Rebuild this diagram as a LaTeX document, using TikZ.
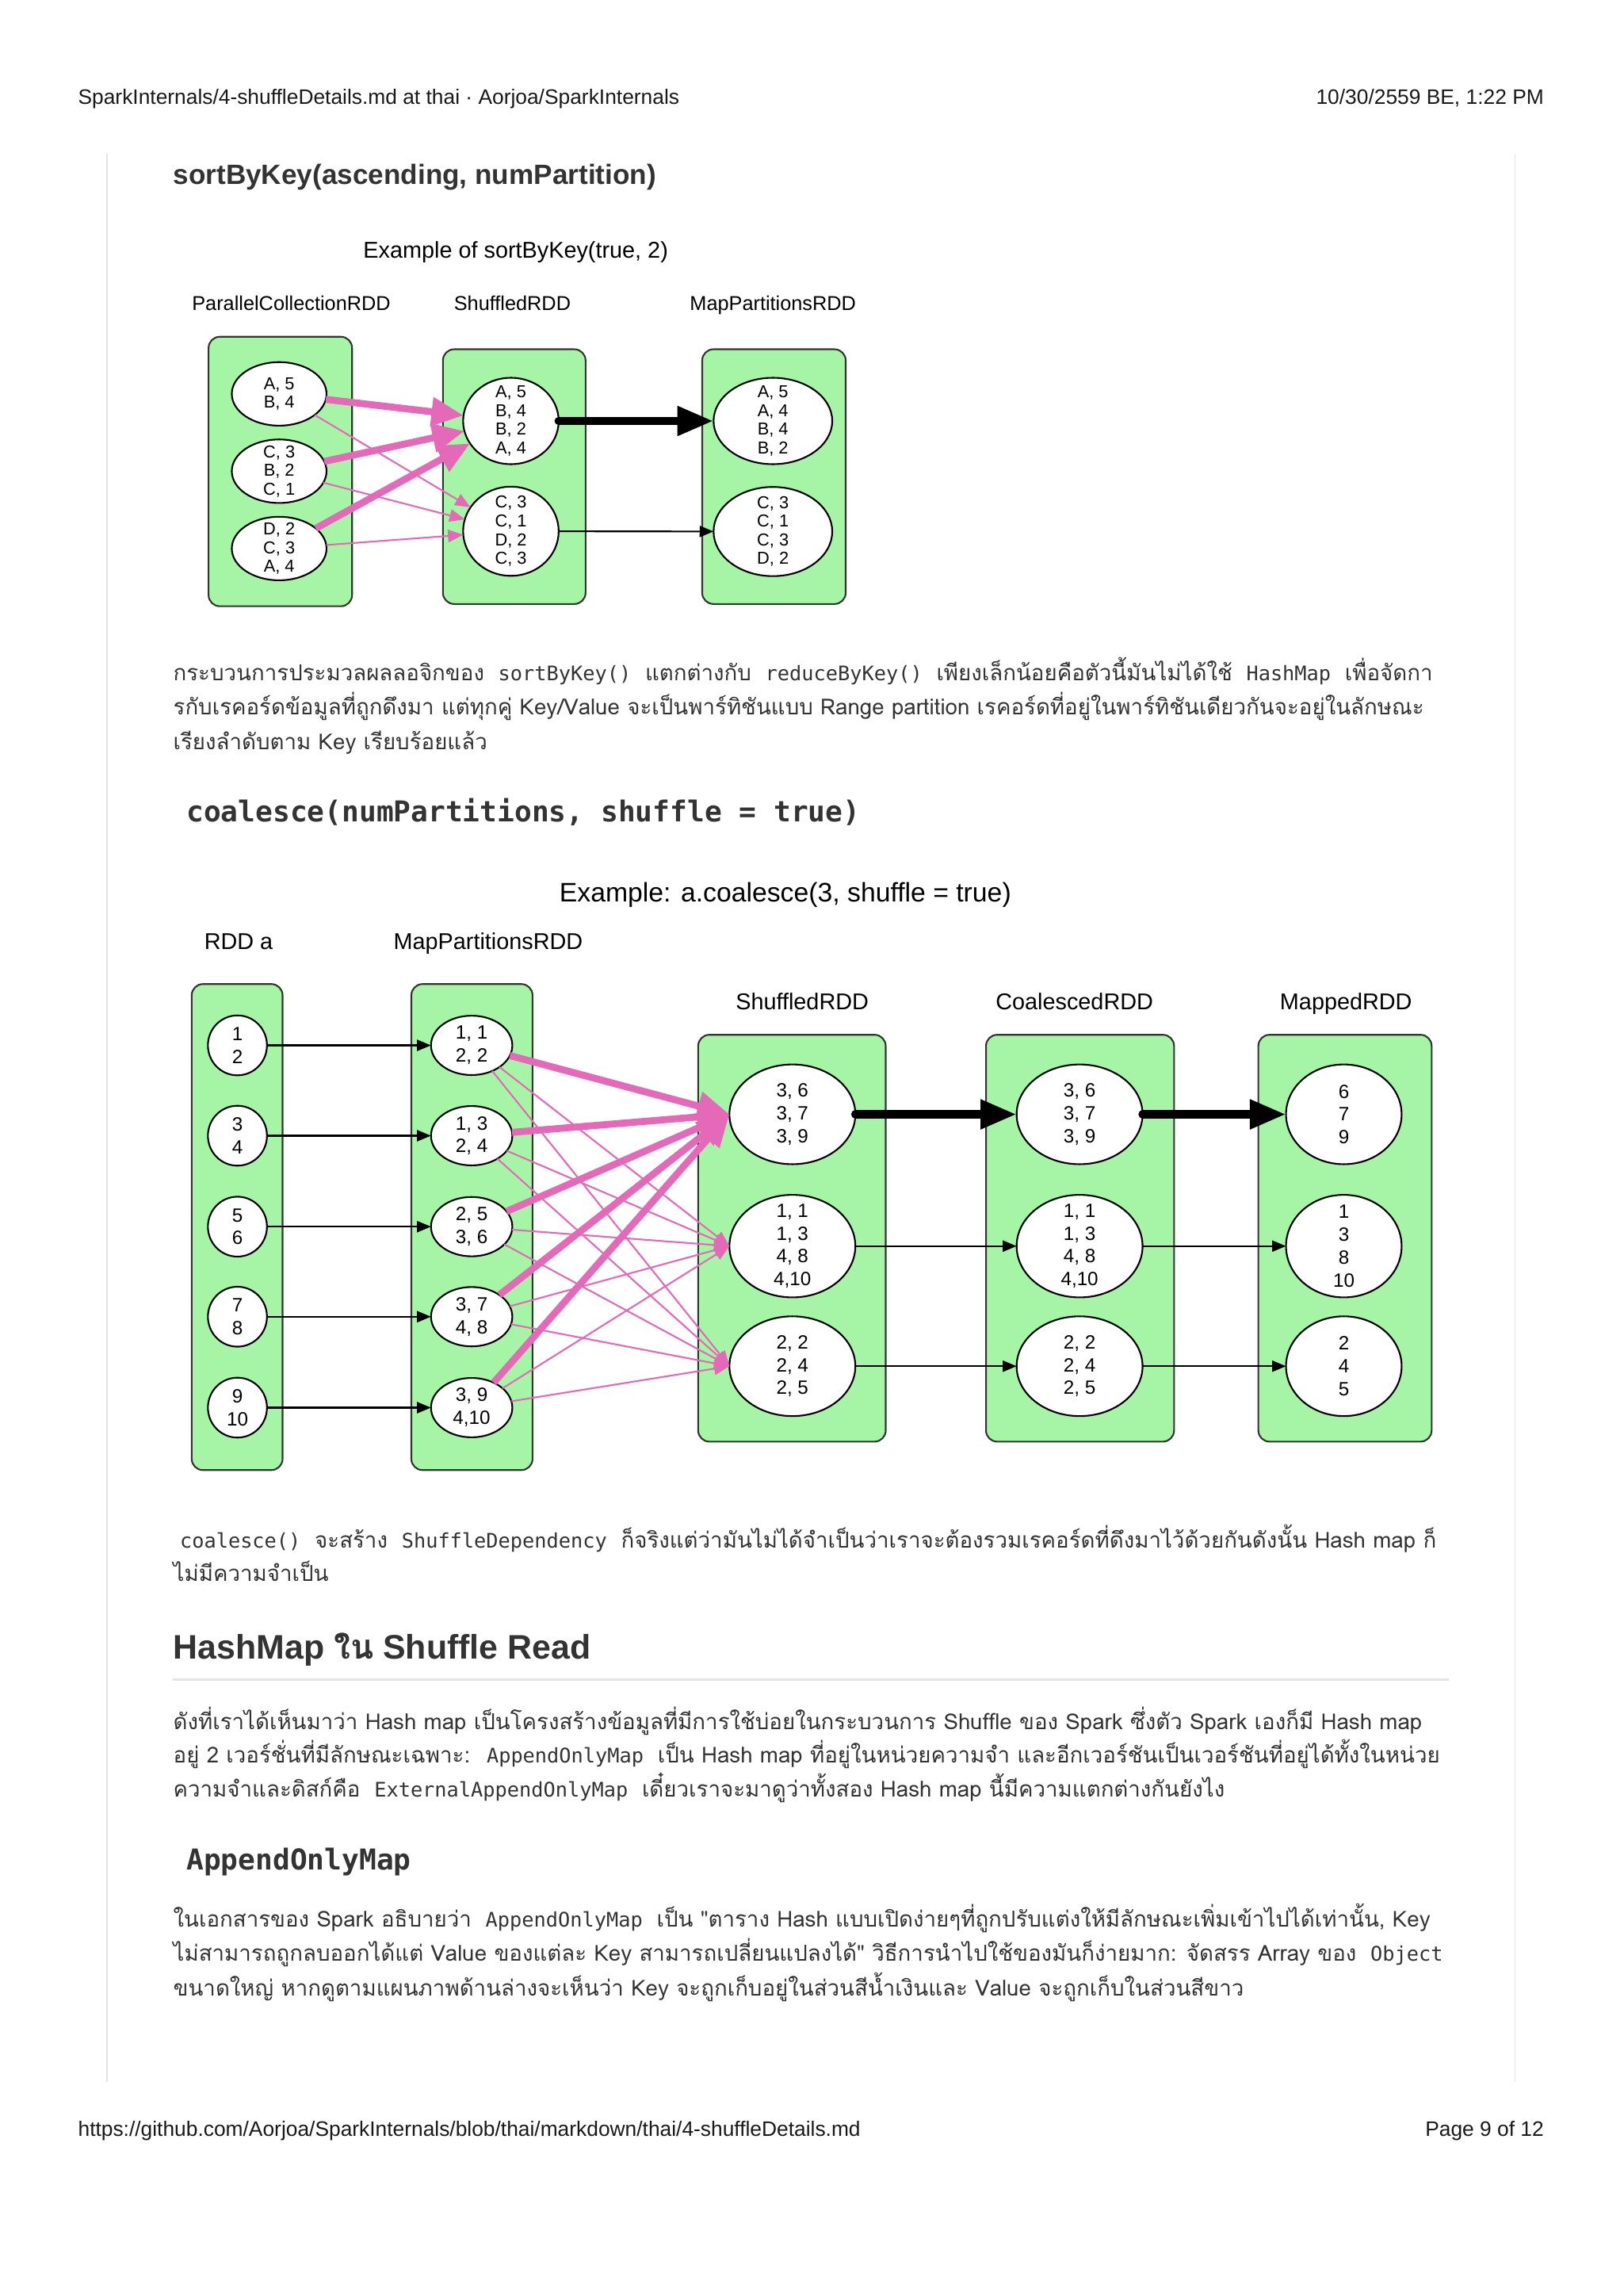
\documentclass[tikz,border=0pt]{standalone}
\usepackage{fontspec}
\setmainfont{Liberation Sans}
\setmonofont{DejaVu Sans Mono}
\newfontfamily\thaifont[Script=Thai]{Loma}
\usepackage{xcolor}
\usetikzlibrary{shapes.geometric, arrows.meta}
\definecolor{rddgreen}{RGB}{166,245,166}
\definecolor{shufpink}{RGB}{228,105,185}
\definecolor{bodytext}{RGB}{51,51,51}
\definecolor{pagerule}{RGB}{228,228,228}
\newcommand{\icode}[1]{\hspace{2.4pt}{\ttfamily\fontsize{7.2}{8}\selectfont #1}\hspace{2.4pt}}

\begin{document}
\begin{tikzpicture}[x=0.18467mm, y=-0.18467mm,
        rddbox/.style={draw=black!80, fill=rddgreen, rounded corners=4pt, line width=0.6pt, inner sep=0pt},
        partnode/.style={draw, ellipse, fill=white, line width=0.6pt, inner sep=-9pt, outer sep=0pt, align=center},
        sortfont/.style={font=\fontsize{6.2}{6.7}\selectfont},
        coalfont/.style={font=\fontsize{6.9}{8.2}\selectfont},
        rddlabel/.style={anchor=base, inner sep=0pt},
        thinpink/.style={draw=shufpink, line width=0.6pt, -{Triangle[length=5.5pt, width=4.5pt]}},
        bigpink/.style={draw=shufpink, line width=2.5pt, -{Triangle[length=11.5pt, width=10pt]}},
        thinarrow/.style={line width=0.6pt, -{Triangle[length=5pt, width=4pt]}},
        bigarrow/.style={line width=3pt, line cap=round, -{Triangle[length=13pt, width=10pt]}},
        bodyline/.style={anchor=base west, inner sep=0pt, text=bodytext, font=\thaifont\fontsize{7.87}{12}\selectfont},
        pageline/.style={inner sep=0pt, text=black!90, font=\fontsize{7.5}{9}\selectfont}
    ]

    \fill[white] (0,0) rectangle (1109,1568);
    \useasboundingbox (0,0) rectangle (1109,1568);

    \node[pageline, anchor=base west] (headl) at (53,71) {SparkInternals/4-shuffleDetails.md at thai · Aorjoa/SparkInternals};
    \node[pageline, anchor=base east] (headr) at (1055,71) {10/30/2559 BE, 1:22 PM};
    \draw[pagerule, line width=0.5pt] (73,105) -- (73,1422);
    \draw[pagerule, line width=0.5pt] (1035,105) -- (1035,1422);

    \node[anchor=base west, inner sep=0pt, text=bodytext, font=\bfseries\fontsize{10}{12}\selectfont] (sorthead) at (118,126) {sortByKey(ascending, numPartition)};

    \node[rddlabel, font=\fontsize{8.2}{10}\selectfont] (sorttitle) at (352.3,176) {Example of sortByKey(true, 2)};
    \node[rddlabel, font=\fontsize{7.2}{9}\selectfont] (parlabel) at (199,212) {ParallelCollectionRDD};
    \node[rddlabel, font=\fontsize{7.2}{9}\selectfont] (shflabel) at (350,212) {ShuffledRDD};
    \node[rddlabel, font=\fontsize{7.2}{9}\selectfont] (srtlabel) at (528,212) {MapPartitionsRDD};

    \node[rddbox, minimum width=51.5pt, minimum height=96.7pt] (parbox) at (191.5,322) {};
    \node[rddbox, minimum width=51.2pt, minimum height=91.4pt] (shfbox) at (351.3,325.5) {};
    \node[rddbox, minimum width=51.5pt, minimum height=91.4pt] (srtbox) at (528.7,325.5) {};

    \node[partnode, sortfont, minimum width=34pt, minimum height=22.8pt] (par1) at (190.7,269) {A, 5\\B, 4};
    \node[partnode, sortfont, minimum width=34pt, minimum height=22.8pt] (par2) at (190.7,321.8) {C, 3\\B, 2\\C, 1};
    \node[partnode, sortfont, minimum width=34pt, minimum height=22.8pt] (par3) at (190.7,374.6) {D, 2\\C, 3\\A, 4};
    \node[partnode, sortfont, minimum width=34.3pt, minimum height=31pt] (shf1) at (349,287.5) {A, 5\\B, 4\\B, 2\\A, 4};
    \node[partnode, sortfont, minimum width=34.3pt, minimum height=32pt] (shf2) at (349,362.8) {C, 3\\C, 1\\D, 2\\C, 3};
    \node[partnode, sortfont, minimum width=42.6pt, minimum height=31pt] (srt1) at (528,287.5) {A, 5\\A, 4\\B, 4\\B, 2};
    \node[partnode, sortfont, minimum width=42.6pt, minimum height=32pt] (srt2) at (528,363) {C, 3\\C, 1\\C, 3\\D, 2};

    \draw[thinpink] (par1) -- (shf2);
    \draw[thinpink] (par2) -- (shf2);
    \draw[thinpink] (par3) -- (shf2);
    \draw[bigpink] (par1) -- (shf1);
    \draw[bigpink] (par2) -- (shf1);
    \draw[bigpink] (par3) -- (shf1);
    \draw[bigarrow] (shf1) -- (srt1);
    \draw[thinarrow] (shf2) -- (srt2);

    \node[bodyline] (p1a) at (118,465) {กระบวนการประมวลผลลอจิกของ \icode{sortByKey()} แตกต่างกับ \icode{reduceByKey()} เพียงเล็กน้อยคือตัวนี้มันไม่ได้ใช้ \icode{HashMap} เพื่อจัดกา};
    \node[bodyline] (p1b) at (118,488) {รกับเรคอร์ดข้อมูลที่ถูกดึงมา แต่ทุกคู่ Key/Value จะเป็นพาร์ทิชันแบบ Range partition เรคอร์ดที่อยู่ในพาร์ทิชันเดียวกันจะอยู่ในลักษณะ};
    \node[bodyline] (p1c) at (118,512) {เรียงลำดับตาม Key เรียบร้อยแล้ว};

    \node[anchor=base west, inner sep=0pt, text=bodytext, font=\ttfamily\bfseries\fontsize{10.3}{12}\selectfont] (coalhead) at (127,561) {coalesce(numPartitions, shuffle = true)};

    \node[rddlabel, font=\fontsize{9.6}{11}\selectfont] (coaltitle) at (536.5,616) {Example: a.coalesce(3, shuffle = true)};
    \node[rddlabel, font=\fontsize{8.2}{10}\selectfont] (rdalabel) at (163,648.4) {RDD a};
    \node[rddlabel, font=\fontsize{8.2}{10}\selectfont] (maplabel) at (333.5,648.4) {MapPartitionsRDD};
    \node[rddlabel, font=\fontsize{8.2}{10}\selectfont] (shdlabel) at (548,689.4) {ShuffledRDD};
    \node[rddlabel, font=\fontsize{8.2}{10}\selectfont] (coalabel) at (734,689.4) {CoalescedRDD};
    \node[rddlabel, font=\fontsize{8.2}{10}\selectfont] (mpdlabel) at (919.5,689.4) {MappedRDD};

    \node[rddbox, minimum width=32.6pt, minimum height=174.4pt] (rdabox) at (162,838) {};
    \node[rddbox, minimum width=43.5pt, minimum height=174.4pt] (mapbox) at (322.4,838) {};
    \node[rddbox, minimum width=67.3pt, minimum height=146pt] (shdbox) at (541,845.6) {};
    \node[rddbox, minimum width=67.5pt, minimum height=146pt] (coabox) at (737.8,845.6) {};
    \node[rddbox, minimum width=62.2pt, minimum height=146pt] (mpdbox) at (918.8,845.6) {};

    \node[partnode, coalfont, minimum width=21.2pt, minimum height=21.5pt] (rda1) at (162.2,713.9) {1\\2};
    \node[partnode, coalfont, minimum width=21.2pt, minimum height=21.5pt] (rda2) at (162.2,775.6) {3\\4};
    \node[partnode, coalfont, minimum width=21.2pt, minimum height=21.5pt] (rda3) at (162.2,837.7) {5\\6};
    \node[partnode, coalfont, minimum width=21.2pt, minimum height=21.5pt] (rda4) at (162.2,899.2) {7\\8};
    \node[partnode, coalfont, minimum width=21.2pt, minimum height=21.5pt] (rda5) at (162.2,961.3) {9\\10};
    \node[partnode, coalfont, minimum width=29.2pt, minimum height=21.3pt] (map1) at (322.2,713.9) {1, 1\\2, 2};
    \node[partnode, coalfont, minimum width=29.2pt, minimum height=21.3pt] (map2) at (322.2,775.6) {1, 3\\2, 4};
    \node[partnode, coalfont, minimum width=29.2pt, minimum height=21.3pt] (map3) at (322.2,837.7) {2, 5\\3, 6};
    \node[partnode, coalfont, minimum width=29.2pt, minimum height=21.3pt] (map4) at (322.2,899.2) {3, 7\\4, 8};
    \node[partnode, coalfont, minimum width=29.2pt, minimum height=21.3pt] (map5) at (322.2,961.3) {3, 9\\4,10};
    \node[partnode, coalfont, minimum width=45.2pt, minimum height=35.8pt] (shd1) at (541.3,761) {3, 6\\3, 7\\3, 9};
    \node[partnode, coalfont, minimum width=45.2pt, minimum height=36.8pt] (shd2) at (541.3,851) {1, 1\\1, 3\\4, 8\\4,10};
    \node[partnode, coalfont, minimum width=45.2pt, minimum height=35.8pt] (shd3) at (541.3,933) {2, 2\\2, 4\\2, 5};
    \node[partnode, coalfont, minimum width=45.2pt, minimum height=35.8pt] (coa1) at (737.5,761) {3, 6\\3, 7\\3, 9};
    \node[partnode, coalfont, minimum width=45.2pt, minimum height=36.8pt] (coa2) at (737.5,851) {1, 1\\1, 3\\4, 8\\4,10};
    \node[partnode, coalfont, minimum width=45.2pt, minimum height=35.8pt] (coa3) at (737.5,933) {2, 2\\2, 4\\2, 5};
    \node[partnode, coalfont, minimum width=41.5pt, minimum height=35.8pt] (mpd1) at (918,761) {6\\7\\9};
    \node[partnode, coalfont, minimum width=41.5pt, minimum height=36.8pt] (mpd2) at (918,851) {1\\3\\8\\10};
    \node[partnode, coalfont, minimum width=41.5pt, minimum height=35.8pt] (mpd3) at (918,933) {2\\4\\5};

    \draw[thinarrow] (rda1) -- (map1);
    \draw[thinarrow] (rda2) -- (map2);
    \draw[thinarrow] (rda3) -- (map3);
    \draw[thinarrow] (rda4) -- (map4);
    \draw[thinarrow] (rda5) -- (map5);
    \draw[thinpink] (map1) -- (shd2.west);
    \draw[thinpink] (map1) -- (shd3.west);
    \draw[thinpink] (map2) -- (shd2.west);
    \draw[thinpink] (map2) -- (shd3.west);
    \draw[thinpink] (map3) -- (shd2.west);
    \draw[thinpink] (map3) -- (shd3.west);
    \draw[thinpink] (map4) -- (shd2.west);
    \draw[thinpink] (map4) -- (shd3.west);
    \draw[thinpink] (map5) -- (shd2.west);
    \draw[thinpink] (map5) -- (shd3.west);
    \draw[bigpink] (map1) -- (shd1.west);
    \draw[bigpink] (map2) -- (shd1.west);
    \draw[bigpink] (map3) -- (shd1.west);
    \draw[bigpink] (map4) -- (shd1.west);
    \draw[bigpink] (map5) -- (shd1.west);
    \draw[bigarrow] (shd1) -- (coa1);
    \draw[bigarrow] (coa1) -- (mpd1);
    \draw[thinarrow] (shd2) -- (coa2);
    \draw[thinarrow] (shd3) -- (coa3);
    \draw[thinarrow] (coa2) -- (mpd2);
    \draw[thinarrow] (coa3) -- (mpd3);

    \node[bodyline] (p2a) at (118,1057) {\icode{coalesce()} จะสร้าง \icode{ShuffleDependency} ก็จริงแต่ว่ามันไม่ได้จำเป็นว่าเราจะต้องรวมเรคอร์ดที่ดึงมาไว้ด้วยกันดังนั้น Hash map ก็};
    \node[bodyline] (p2b) at (118,1080) {ไม่มีความจำเป็น};

    \node[anchor=base west, inner sep=0pt, text=bodytext, font=\bfseries\fontsize{12.2}{14}\selectfont] (hashhead) at (118,1133) {HashMap {\thaifont ใน} Shuffle Read};
    \draw[pagerule, line width=0.6pt] (118,1147) -- (990,1147);

    \node[bodyline] (p3a) at (118,1181) {ดังที่เราได้เห็นมาว่า Hash map เป็นโครงสร้างข้อมูลที่มีการใช้บ่อยในกระบวนการ Shuffle ของ Spark ซึ่งตัว Spark เองก็มี Hash map};
    \node[bodyline] (p3b) at (118,1204) {อยู่ 2 เวอร์ชั่นที่มีลักษณะเฉพาะ: \icode{AppendOnlyMap} เป็น Hash map ที่อยู่ในหน่วยความจำ และอีกเวอร์ชันเป็นเวอร์ชันที่อยู่ได้ทั้งในหน่วย};
    \node[bodyline] (p3c) at (118,1227) {ความจำและดิสก์คือ \icode{ExternalAppendOnlyMap} เดี๋ยวเราจะมาดูว่าทั้งสอง Hash map นี้มีความแตกต่างกันยังไง};

    \node[anchor=base west, inner sep=0pt, text=bodytext, font=\ttfamily\bfseries\fontsize{10.3}{12}\selectfont] (aomhead) at (127,1277) {AppendOnlyMap};

    \node[bodyline] (p4a) at (118,1316) {ในเอกสารของ Spark อธิบายว่า \icode{AppendOnlyMap} เป็น "ตาราง Hash แบบเปิดง่ายๆที่ถูกปรับแต่งให้มีลักษณะเพิ่มเข้าไปได้เท่านั้น, Key};
    \node[bodyline] (p4b) at (118,1339) {ไม่สามารถถูกลบออกได้แต่ Value ของแต่ละ Key สามารถเปลี่ยนแปลงได้" วิธีการนำไปใช้ของมันก็ง่ายมาก: จัดสรร Array ของ \icode{Object}};
    \node[bodyline] (p4c) at (118,1363) {ขนาดใหญ่ หากดูตามแผนภาพด้านล่างจะเห็นว่า Key จะถูกเก็บอยู่ในส่วนสีน้ำเงินและ Value จะถูกเก็บในส่วนสีขาว};

    \node[pageline, anchor=base west] (footl) at (53,1459) {https://github.com/Aorjoa/SparkInternals/blob/thai/markdown/thai/4-shuffleDetails.md};
    \node[pageline, anchor=base east] (footr) at (1055,1459) {Page 9 of 12};
\end{tikzpicture}
\end{document}
